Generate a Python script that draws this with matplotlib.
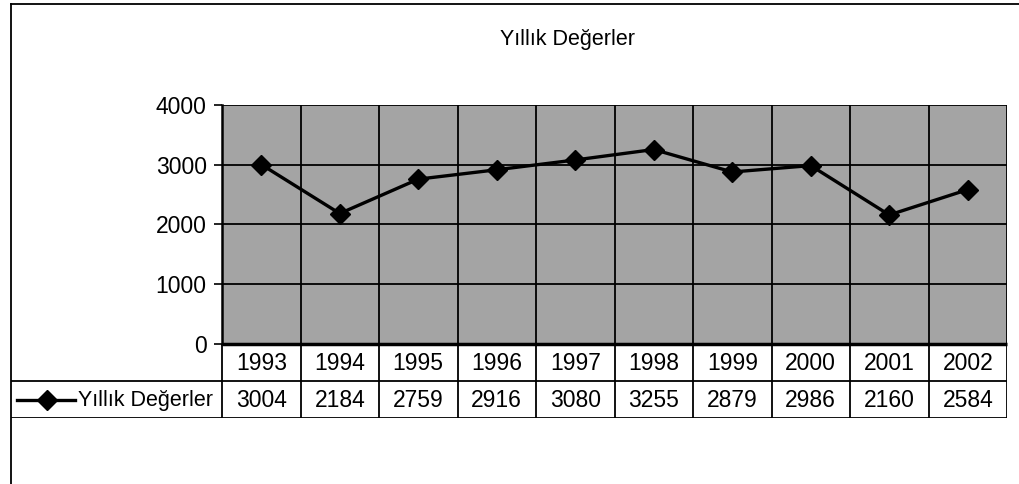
import matplotlib
matplotlib.use("Agg")
from matplotlib import pyplot as plt
from matplotlib.lines import Line2D
import numpy as np

plt.rcParams['font.family'] = ['Liberation Sans', 'DejaVu Sans']

title = "Yıllık Değerler"
series_name = "Yıllık Değerler"
years = ["1993", "1994", "1995", "1996", "1997", "1998", "1999", "2000", "2001", "2002"]
values = [3004, 2184, 2759, 2916, 3080, 3255, 2879, 2986, 2160, 2584]
y_ticks = [0, 1000, 2000, 3000, 4000]

W, H = 1019, 484
fig = plt.figure(figsize=(W / 100, H / 100), dpi=100)
FS = 16.5

def box(x0, y0, x1, y1):
    # pixel box (top-left origin) -> figure fraction rect
    return [x0 / W, 1 - y1 / H, (x1 - x0) / W, (y1 - y0) / H]

# plot area
pl, pt, pr, pb = 222, 105, 1007, 344
ax = fig.add_axes(box(pl, pt, pr, pb))
ax.set_facecolor("#a4a4a4")
x = np.arange(len(years))
ax.set_xlim(-0.5, len(years) - 0.5)
ax.set_ylim(0, 4000)
for xb in np.arange(len(years) + 1) - 0.5:
    ax.axvline(xb, color="black", lw=1.3, zorder=1)
for yv in y_ticks[1:]:
    ax.axhline(yv, color="black", lw=1.3, zorder=1)
ax.plot(x, values, color="black", lw=2.4, marker="D", markersize=10.5, zorder=3, clip_on=False)
ax.set_xticks([])
ax.set_yticks(y_ticks)
ax.set_yticklabels([str(v) for v in y_ticks], fontsize=FS)
ax.tick_params(axis="y", length=6, width=1.2, pad=5, colors="black")
for s in ["top", "right"]:
    ax.spines[s].set_visible(False)
ax.spines["left"].set_linewidth(1.8)
ax.spines["bottom"].set_linewidth(2.5)
ax.spines["bottom"].set_capstyle("butt")

# data table under the plot
tl, tr = 11, pr
row1_top, row2_top, table_bot = pb, 381, 418
cw = (pr - pl) / len(years)
tab = fig.add_axes(box(tl, row1_top, tr, table_bot))
tab.set_xlim(-0.5 - (pl - tl) / cw, len(years) - 0.5)
tab.set_ylim((table_bot - row1_top), 0)
tab.axis("off")
r2 = row2_top - row1_top
rb = table_bot - row1_top
lx0 = -0.5 - (pl - tl) / cw
for xb in np.arange(len(years) + 1) - 0.5:
    tab.plot([xb, xb], [0, rb], color="black", lw=1.3)
tab.plot([lx0, len(years) - 0.5], [r2, r2], color="black", lw=1.3)
tab.plot([lx0, len(years) - 0.5], [rb, rb], color="black", lw=1.3)
for i, (yr, v) in enumerate(zip(years, values)):
    tab.text(i, r2 / 2 + 1, yr, ha="center", va="center", fontsize=FS)
    tab.text(i, (r2 + rb) / 2 + 1, str(v), ha="center", va="center", fontsize=FS)

# legend key in left cell
key_y = (r2 + rb) / 2
tab.plot([lx0 + 6 / cw, lx0 + 64 / cw], [key_y, key_y], color="black", lw=2.4)
tab.plot([lx0 + 36 / cw], [key_y], color="black", marker="D", markersize=10.5)
tab.text(lx0 + 67 / cw, key_y + 1, series_name, ha="left", va="center", fontsize=15.5)

# title and outer frame
fig.text(568 / W, 1 - 39 / H, title, ha="center", va="center", fontsize=15.5)
fig.add_artist(Line2D([11 / W, 11 / W], [0, 1 - 4 / H], color="black", lw=1.3))
fig.add_artist(Line2D([11 / W, 1], [1 - 4 / H, 1 - 4 / H], color="black", lw=1.3))

fig.savefig("out.png", dpi=100)
